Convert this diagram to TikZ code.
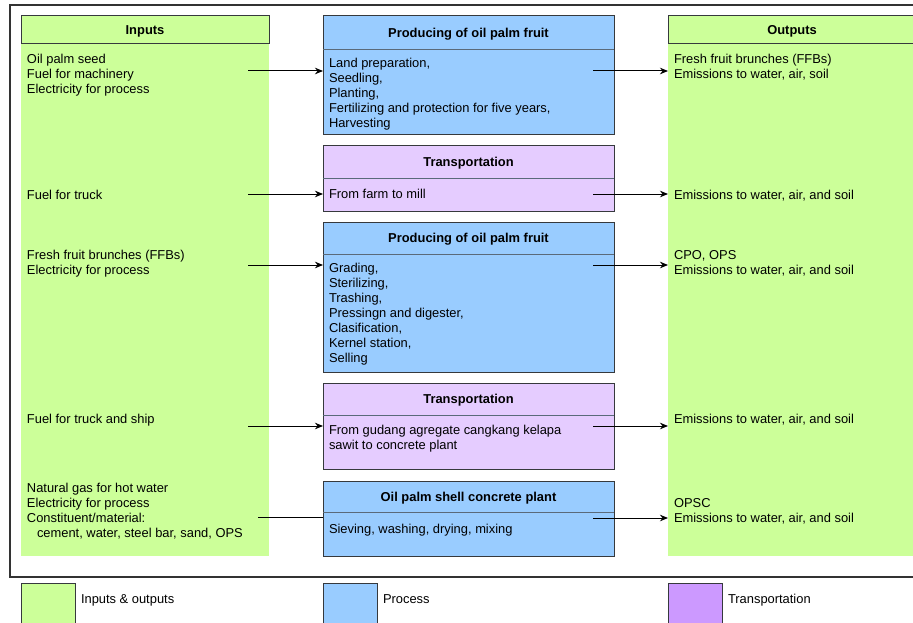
\documentclass[tikz,border=0pt]{standalone}
\usepackage{fontspec}
\setmainfont{Liberation Sans}
\usetikzlibrary{arrows.meta}
\definecolor{iogreen}{HTML}{CCFF99}
\definecolor{procblue}{HTML}{99CCFF}
\definecolor{transp}{HTML}{E5CCFF}
\definecolor{transleg}{HTML}{CC99FF}
\definecolor{edgec}{HTML}{36393D}
\definecolor{sepc}{HTML}{5A6A7A}
\definecolor{framec}{HTML}{333333}
\begin{document}
\begin{tikzpicture}[x=1pt,y=-1pt,font=\fontsize{12.9}{15}\selectfont,
  box/.style={inner sep=0pt,outer sep=0pt,anchor=north west},
  txt/.style={inner sep=0pt,outer sep=0pt,anchor=north west,align=left,yshift=8.5pt,execute at begin node=\strut},
  hdr/.style={box,font=\fontsize{12.9}{15}\selectfont\bfseries,text height=9.2pt,text depth=0pt},
  sepline/.style={draw=sepc,line width=0.8pt},
  arr/.style={line width=1pt,-{Stealth[length=8pt,width=6.5pt,inset=2.5pt]}},
  plainln/.style={line width=1pt}]
\clip (0,0) rectangle (913,623);
% outer frame
\node[box,draw=framec,line width=1.5pt,minimum width=920pt,minimum height=572pt] (frame) at (10,5) {};
% inputs column
\node[box,fill=iogreen,minimum width=248pt,minimum height=512pt] (inb) at (21,44) {};
\node[hdr,draw=edgec,line width=1pt,fill=iogreen,minimum width=248pt,minimum height=28pt] (inh) at (21,16) {Inputs};
% outputs column
\node[box,fill=iogreen,minimum width=248pt,minimum height=512pt] (outb) at (668,44) {};
\node[hdr,draw=edgec,line width=1pt,fill=iogreen,minimum width=248pt,minimum height=28pt] (outh) at (668,16) {Outputs};
% process 1
\node[box,draw=edgec,line width=1pt,fill=procblue,minimum width=291pt,minimum height=119pt] (p1) at (323,16) {};
\node[hdr,minimum width=291pt,minimum height=33pt] (p1h) at (323,16) {Producing of oil palm fruit};
\draw[sepline] (p1h.south west) -- (p1h.south east);
% transport 1
\node[box,draw=edgec,line width=1pt,fill=transp,minimum width=291pt,minimum height=65pt] (t1) at (323,146) {};
\node[hdr,minimum width=291pt,minimum height=32pt] (t1h) at (323,146) {Transportation};
\draw[sepline] (t1h.south west) -- (t1h.south east);
% process 2
\node[box,draw=edgec,line width=1pt,fill=procblue,minimum width=291pt,minimum height=150pt] (p2) at (323,222) {};
\node[hdr,minimum width=291pt,minimum height=32pt] (p2h) at (323,222) {Producing of oil palm fruit};
\draw[sepline] (p2h.south west) -- (p2h.south east);
% transport 2
\node[box,draw=edgec,line width=1pt,fill=transp,minimum width=291pt,minimum height=86pt] (t2) at (323,383) {};
\node[hdr,minimum width=291pt,minimum height=32pt] (t2h) at (323,383) {Transportation};
\draw[sepline] (t2h.south west) -- (t2h.south east);
% process 3
\node[box,draw=edgec,line width=1pt,fill=procblue,minimum width=291pt,minimum height=75pt] (p3) at (323,481) {};
\node[hdr,minimum width=291pt,minimum height=31pt] (p3h) at (323,481) {Oil palm shell concrete plant};
\draw[sepline] (p3h.south west) -- (p3h.south east);
% input texts
\node[txt] (i1) at (27,63) {Oil palm seed\\Fuel for machinery\\Electricity for process};
\node[txt] (i2) at (27,198) {Fuel for truck};
\node[txt] (i3) at (27,259) {Fresh fruit brunches (FFBs)\\Electricity for process};
\node[txt] (i4) at (27,421) {Fuel for truck and ship};
\node[txt] (i5) at (27,492) {Natural gas for hot water\\Electricity for process\\Constituent/material:\\\hspace*{10pt}cement, water, steel bar, sand, OPS};
% output texts
\node[txt] (o1) at (674,63) {Fresh fruit brunches (FFBs)\\Emissions to water, air, soil};
\node[txt] (o2) at (674,198) {Emissions to water, air, and soil};
\node[txt] (o3) at (674,259) {CPO, OPS\\Emissions to water, air, and soil};
\node[txt] (o4) at (674,421) {Emissions to water, air, and soil};
\node[txt] (o5) at (674,507) {OPSC\\Emissions to water, air, and soil};
% process texts
\node[txt] (p1t) at (329,67) {Land preparation,\\Seedling,\\Planting,\\Fertilizing and protection for five years,\\Harvesting};
\node[txt] (t1t) at (329,196) {From farm to mill};
\node[txt] (p2t) at (329,272) {Grading,\\Sterilizing,\\Trashing,\\Pressingn and digester,\\Clasification,\\Kernel station,\\Selling};
\node[txt] (t2t) at (329,434) {From gudang agregate cangkang kelapa\\sawit to concrete plant};
\node[txt] (p3t) at (329,531) {Sieving, washing, drying, mixing};
% connector start points
\coordinate (a1) at (248,71);
\coordinate (a2) at (248,194);
\coordinate (a3) at (248,265);
\coordinate (a4) at (248,426);
\coordinate (a5) at (258,517);
\coordinate (b1) at (593,71);
\coordinate (b2) at (593,194);
\coordinate (b3) at (593,265);
\coordinate (b4) at (593,426);
\coordinate (b5) at (593,518);
% connectors
\draw[arr] (a1) -- (p1.west |- a1);
\draw[arr] (a2) -- (t1.west |- a2);
\draw[arr] (a3) -- (p2.west |- a3);
\draw[arr] (a4) -- (t2.west |- a4);
\draw[plainln] (a5) -- (p3.west |- a5);
\draw[arr] (b1) -- (outb.west |- b1);
\draw[arr] (b2) -- (outb.west |- b2);
\draw[arr] (b3) -- (outb.west |- b3);
\draw[arr] (b4) -- (outb.west |- b4);
\draw[arr] (b5) -- (outb.west |- b5);
% legend
\node[box,draw=edgec,line width=1pt,fill=iogreen,minimum width=54pt,minimum height=50pt] (l1) at (21,583) {};
\node[box,draw=edgec,line width=1pt,fill=procblue,minimum width=54pt,minimum height=50pt] (l2) at (323,583) {};
\node[box,draw=edgec,line width=1pt,fill=transleg,minimum width=54pt,minimum height=50pt] (l3) at (668,583) {};
\node[txt] (l1t) at (81,601) {Inputs \& outputs};
\node[txt] (l2t) at (383,601) {Process};
\node[txt] (l3t) at (728,601) {Transportation};
\end{tikzpicture}
\end{document}
